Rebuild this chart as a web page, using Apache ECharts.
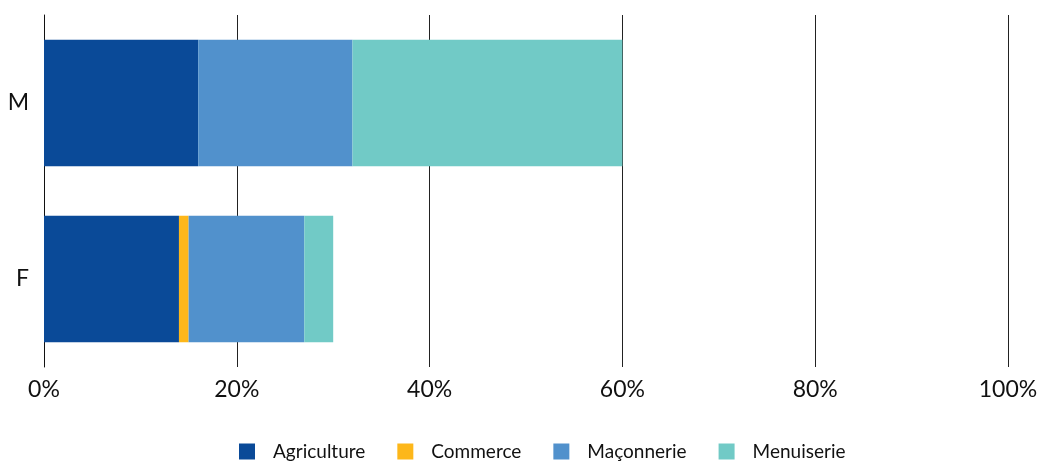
<!DOCTYPE html>
<html>
<head>
<meta charset="utf-8">
<script src="https://cdn.jsdelivr.net/npm/echarts@6/dist/echarts.min.js"></script>
<style>html,body{margin:0;padding:0;background:#fff}#c{width:1041px;height:461px}</style>
</head>
<body>
<div id="c"></div>
<script>
const categories = ['F', 'M'];
const seriesNames = ['Agriculture', 'Commerce', 'Maçonnerie', 'Menuiserie'];
const agriculture = [14, 16];
const commerce = [1, 0];
const maconnerie = [12, 16];
const menuiserie = [3, 28];
const xTicks = [0, 20, 40, 60, 80, 100];
const colors = ['#0A4A98', '#FDB71A', '#5191CC', '#71CAC6'];
const values = [agriculture, commerce, maconnerie, menuiserie];

const FONT = 'Lato';
const chart = echarts.init(document.getElementById('c'));
chart.setOption({
  animation: false,
  color: colors,
  grid: { left: 44, right: 33, top: 15, bottom: 94, containLabel: false },
  legend: {
    left: 239, top: 442, padding: 0,
    itemWidth: 16, itemHeight: 16, itemGap: 32, icon: 'rect',
    textStyle: { fontFamily: FONT, fontSize: 19, color: '#111', padding: [0, 0, 0, 13] },
    data: seriesNames
  },
  xAxis: {
    type: 'value', min: xTicks[0], max: xTicks[xTicks.length - 1], interval: 20,
    axisLine: { show: false }, axisTick: { show: false },
    splitLine: { show: true, lineStyle: { color: '#222', width: 1 } },
    axisLabel: { fontFamily: FONT, fontSize: 23, color: '#111', margin: 11, formatter: v => v + '%' }
  },
  yAxis: {
    type: 'category', data: categories,
    axisLine: { show: true, lineStyle: { color: '#111', width: 1 } },
    axisTick: { show: false },
    axisLabel: { fontFamily: FONT, fontSize: 23, color: '#111', margin: 15 }
  },
  series: seriesNames.map((n, i) => ({
    name: n, type: 'bar', stack: 'total', barCategoryGap: '28%',
    data: values[i], itemStyle: { color: colors[i] }
  }))
});
</script>
</body>
</html>
